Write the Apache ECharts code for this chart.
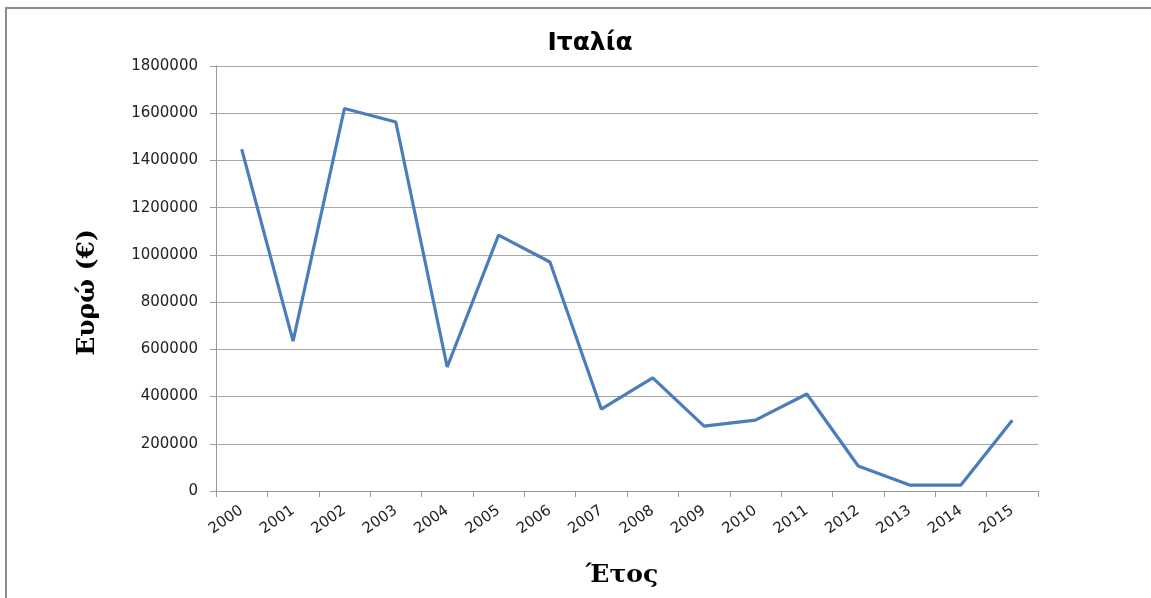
<!DOCTYPE html>
<html>
<head>
<meta charset="utf-8">
<script src="https://cdn.jsdelivr.net/npm/echarts@6/dist/echarts.min.js"></script>
<style>
  html, body { margin: 0; padding: 0; background: #fff; }
  #chart { width: 1151px; height: 598px; }
</style>
</head>
<body>
<div id="chart"></div>
<script>
var years = ['2000', '2001', '2002', '2003', '2004', '2005', '2006', '2007',
             '2008', '2009', '2010', '2011', '2012', '2013', '2014', '2015'];
var euros = [1448000, 635000, 1620000, 1563000, 525000, 1084000, 970000, 347000,
             479000, 275000, 300000, 411000, 106000, 25000, 25000, 300000];

var myChart = echarts.init(document.getElementById('chart'));
var option = {
  animation: false,
  title: {
    text: 'Ιταλία',
    left: 585,
    top: 26,
    textAlign: 'center',
    textStyle: {
      fontFamily: 'DejaVu Sans',
      fontWeight: 'bold',
      fontSize: 25,
      color: '#000'
    }
  },
  graphic: [{
    type: 'rect',
    shape: { x: 6, y: 8, width: 1300, height: 800 },
    style: { fill: null, stroke: '#8c8c8c', lineWidth: 2 },
    silent: true
  }],
  grid: {
    left: 216,
    right: 113,
    top: 66,
    bottom: 107
  },
  xAxis: {
    type: 'category',
    data: years,
    boundaryGap: true,
    name: 'Έτος',
    nameLocation: 'middle',
    nameGap: 72,
    nameTextStyle: {
      fontFamily: 'DejaVu Serif',
      fontWeight: 'bold',
      fontSize: 25,
      color: '#000',
      padding: [0, 10, 0, 0]
    },
    axisLine: { lineStyle: { color: '#999', width: 1 } },
    axisTick: { show: true, alignWithLabel: false, length: 6, lineStyle: { color: '#999' } },
    axisLabel: {
      rotate: 35,
      margin: 18,
      fontFamily: 'DejaVu Sans',
      fontSize: 15,
      color: '#222'
    },
    splitLine: { show: false }
  },
  yAxis: {
    type: 'value',
    min: 0,
    max: 1800000,
    interval: 200000,
    name: 'Ευρώ (€)',
    nameLocation: 'middle',
    nameGap: 116,
    nameRotate: 90,
    nameTextStyle: {
      fontFamily: 'DejaVu Serif',
      fontWeight: 'bold',
      fontSize: 25,
      color: '#000',
      padding: [0, 28, 0, 0]
    },
    axisLine: { show: true, lineStyle: { color: '#999', width: 1 } },
    axisTick: { show: true, length: 6, lineStyle: { color: '#999' } },
    axisLabel: {
      margin: 18,
      fontFamily: 'DejaVu Sans',
      fontSize: 15,
      color: '#222',
      formatter: function (v) { return String(v); }
    },
    splitLine: { lineStyle: { color: '#a6a6a6', width: 1 } }
  },
  series: [{
    type: 'line',
    data: euros,
    symbol: 'none',
    lineStyle: { color: '#4a7ebb', width: 3.2 },
    itemStyle: { color: '#4a7ebb' }
  }]
};
myChart.setOption(option);
</script>
</body>
</html>
